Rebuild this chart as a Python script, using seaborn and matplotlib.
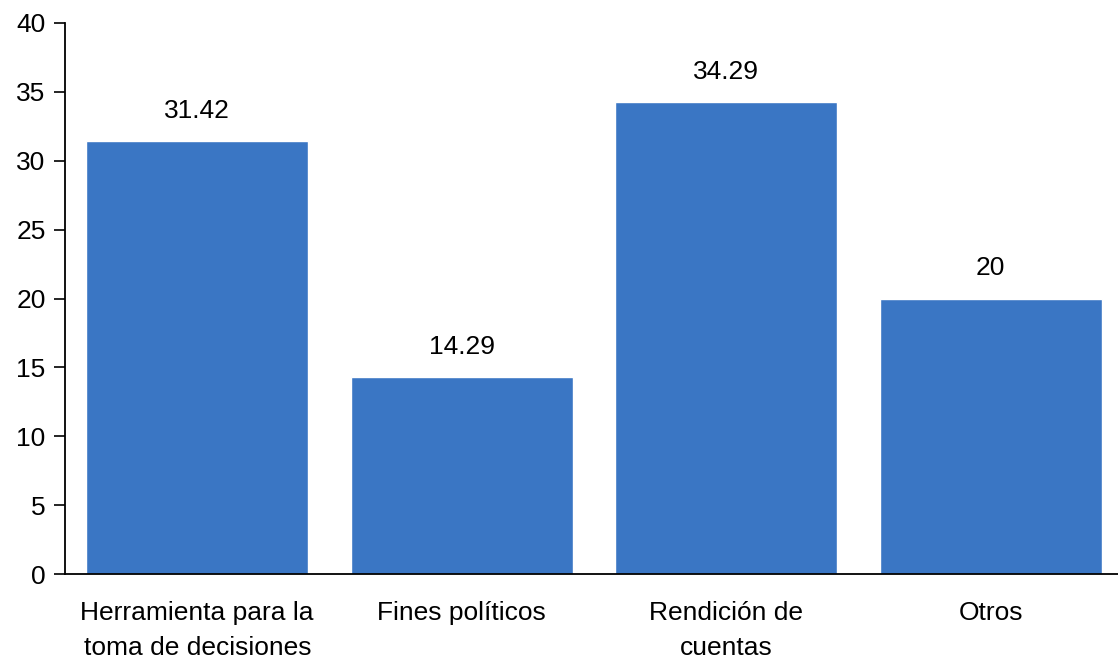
import seaborn as sns
import matplotlib.pyplot as plt
import pandas as pd

categories = ["Herramienta para la\ntoma de decisiones", "Fines políticos",
              "Rendición de\ncuentas", "Otros"]
values = [31.42, 14.29, 34.29, 20]
value_labels = ["31.42", "14.29", "34.29", "20"]

sns.set_style("white")
plt.rcParams['font.family'] = ['Liberation Sans', 'DejaVu Sans']
plt.rcParams['text.color'] = 'black'
plt.rcParams['xtick.color'] = 'black'
plt.rcParams['ytick.color'] = 'black'

df = pd.DataFrame({'categoria': categories, 'valor': values})

fig = plt.figure(figsize=(11.18, 6.61), dpi=100)
# the axes runs slightly past the right edge of the picture, as in the original
ax = fig.add_axes([65 / 1118, 1 - 574 / 661, 1058 / 1118, 551 / 661])
sns.barplot(x='categoria', y='valor', data=df, color='#3A76C4', width=0.84,
            saturation=1, ax=ax)

for i, (v, lab) in enumerate(zip(values, value_labels)):
    ax.annotate(lab, (i, v), xytext=(0, 13), textcoords='offset points',
                ha='center', va='bottom', fontsize=19, color='black')

ax.set_xlim(-0.5, 3.5)
ax.set_ylim(0, 40)
ax.set_yticks(range(0, 41, 5))
ax.set_xlabel('')
ax.set_ylabel('')
ax.tick_params(axis='y', left=True, length=8, width=1.2, labelsize=19, pad=6)
ax.tick_params(axis='x', bottom=False, labelsize=19, pad=16)
for t in ax.get_xticklabels():
    t.set_linespacing(1.55)
sns.despine(ax=ax)
for s in ['left', 'bottom']:
    ax.spines[s].set_color('black')
    ax.spines[s].set_linewidth(1.3)

fig.savefig('out.png', dpi=100)
